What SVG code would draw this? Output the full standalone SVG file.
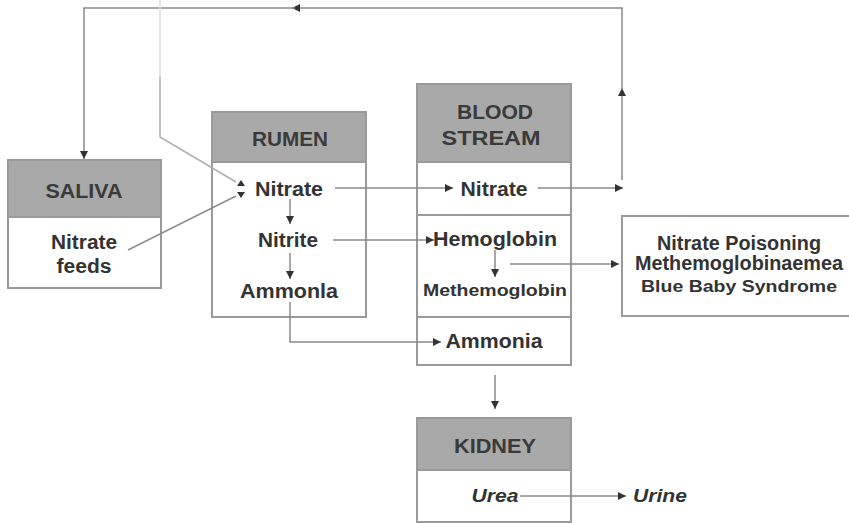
<svg xmlns="http://www.w3.org/2000/svg" width="849" height="523" viewBox="0 0 849 523">
<defs>
<marker id="ah" viewBox="0 0 10 10" refX="10" refY="5" markerWidth="8" markerHeight="8" markerUnits="userSpaceOnUse" orient="auto">
<path d="M0,0 L10,5 L0,10 z" fill="#333"/>
</marker>
</defs>
<style>
.box{fill:#fff;stroke:#9a9a9a;stroke-width:2}
.hdr{fill:#a9a9a9;stroke:#9a9a9a;stroke-width:2}
.div{stroke:#9a9a9a;stroke-width:2}
text{font-family:"Liberation Sans",Arial,sans-serif;font-weight:bold;fill:#333;text-anchor:middle}
.h{font-size:21px;fill:#3a3a3a}
.t{font-size:20px}
.s{font-size:17px}
.p{font-size:19.5px}
.i{font-style:italic;font-size:19px}
.c{fill:none;stroke:#8a8a8a;stroke-width:1.5}
.cl{fill:none;stroke:#b0b0b0;stroke-width:1.5}
.cf{fill:none;stroke:#dcdcdc;stroke-width:1.5}
</style>
<rect width="849" height="523" fill="#fff"/>

<g id="saliva">
<rect class="box" x="8" y="160" width="153" height="128"/>
<rect class="hdr" x="8" y="160" width="153" height="57"/>
<text class="h" x="84" y="198" textLength="77" lengthAdjust="spacingAndGlyphs">SALIVA</text>
<text class="t" x="84" y="249" textLength="66" lengthAdjust="spacingAndGlyphs">Nitrate</text>
<text class="t" x="84" y="273" textLength="55" lengthAdjust="spacingAndGlyphs">feeds</text>
</g>

<g id="rumen">
<rect class="box" x="212" y="112" width="154" height="205"/>
<rect class="hdr" x="212" y="112" width="154" height="50"/>
<text class="h" x="290" y="146" textLength="76" lengthAdjust="spacingAndGlyphs">RUMEN</text>
<text class="t" x="289" y="196" textLength="68" lengthAdjust="spacingAndGlyphs">Nitrate</text>
<text class="t" x="288" y="247" textLength="60" lengthAdjust="spacingAndGlyphs">Nitrite</text>
<text class="t" x="289" y="298" textLength="98" lengthAdjust="spacingAndGlyphs">Ammonla</text>
</g>

<g id="bloodstream">
<rect class="box" x="417" y="84" width="154" height="281"/>
<rect class="hdr" x="417" y="84" width="154" height="78"/>
<line class="div" x1="417" y1="215" x2="571" y2="215"/>
<line class="div" x1="417" y1="317" x2="571" y2="317"/>
<text class="h" x="495" y="119" textLength="76" lengthAdjust="spacingAndGlyphs">BLOOD</text>
<text class="h" x="491" y="145" textLength="99" lengthAdjust="spacingAndGlyphs">STREAM</text>
<text class="t" x="494" y="196" textLength="67" lengthAdjust="spacingAndGlyphs">Nitrate</text>
<text class="t" x="495" y="246" textLength="124" lengthAdjust="spacingAndGlyphs">Hemoglobin</text>
<text class="s" x="495" y="296" textLength="144" lengthAdjust="spacingAndGlyphs">Methemoglobin</text>
<text class="t" x="494" y="348" textLength="97" lengthAdjust="spacingAndGlyphs">Ammonia</text>
</g>

<g id="poisoning">
<rect class="box" x="622" y="216" width="240" height="100"/>
<text class="p" x="739" y="250" textLength="164" lengthAdjust="spacingAndGlyphs">Nitrate Poisoning</text>
<text class="p" x="739" y="270" textLength="208" lengthAdjust="spacingAndGlyphs">Methemoglobinaemea</text>
<text class="s" x="739" y="292" textLength="196" lengthAdjust="spacingAndGlyphs">Blue Baby Syndrome</text>
</g>

<g id="kidney">
<rect class="box" x="417" y="418" width="154" height="104"/>
<rect class="hdr" x="417" y="418" width="154" height="52"/>
<text class="h" x="495" y="453" textLength="82" lengthAdjust="spacingAndGlyphs">KIDNEY</text>
<text class="i" x="495" y="502" textLength="47" lengthAdjust="spacingAndGlyphs">Urea</text>
</g>

<g id="urine">
<text class="i" x="660" y="502" textLength="54" lengthAdjust="spacingAndGlyphs">Urine</text>
</g>

<g id="connectors">
<path class="c" d="M622,180 V88" marker-end="url(#ah)"/>
<path class="c" d="M622,90 V8 H292" marker-end="url(#ah)"/>
<path class="c" d="M295,8 H84 V159" marker-end="url(#ah)"/>
<path class="cf" d="M160,0 V78"/>
<path class="cl" d="M160,77 V137 L236,182"/>
<path class="c" d="M128,250 L236,196"/>
<path d="M241,180 L245,186 L237,186 z M241,198 L245,192 L237,192 z" fill="#333"/>
<path class="c" d="M335,188 H453" marker-end="url(#ah)"/>
<path class="c" d="M538,188 H623" marker-end="url(#ah)"/>
<path class="c" d="M290,199 V224" marker-end="url(#ah)"/>
<path class="c" d="M290,253 V279" marker-end="url(#ah)"/>
<path class="c" d="M290,302 V342 H441" marker-end="url(#ah)"/>
<path class="c" d="M333,240 H434" marker-end="url(#ah)"/>
<path class="c" d="M495,250 V277" marker-end="url(#ah)"/>
<path class="c" d="M510,264 H619" marker-end="url(#ah)"/>
<path class="c" d="M495,375 V409" marker-end="url(#ah)"/>
<path class="c" d="M520,496 H626" marker-end="url(#ah)"/>
</g>
</svg>
